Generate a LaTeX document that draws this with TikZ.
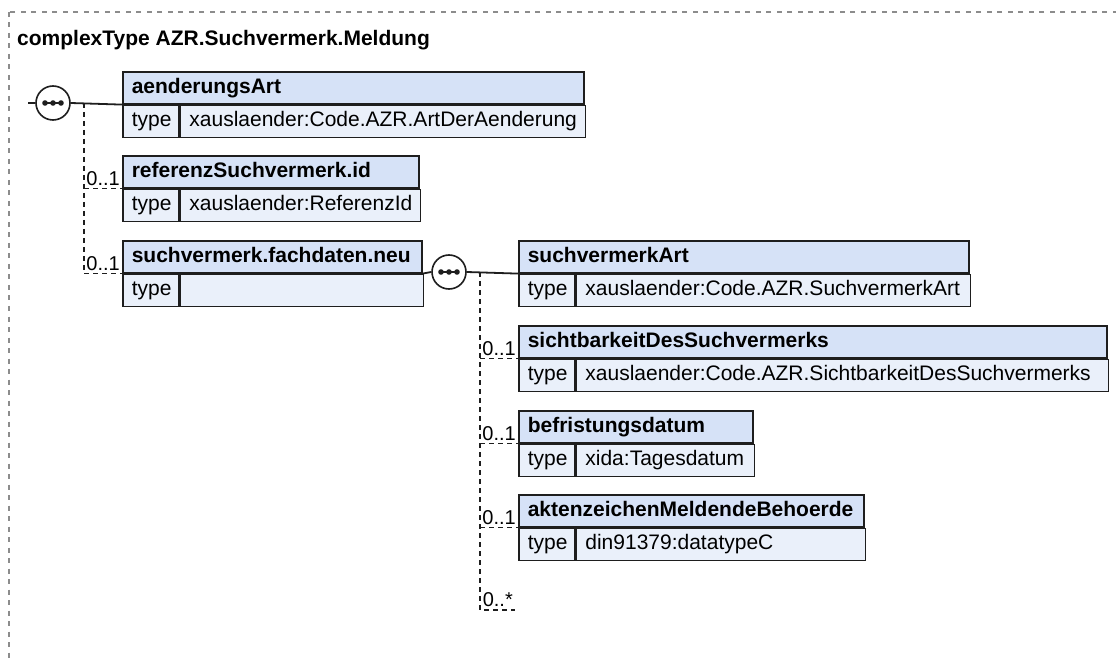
\documentclass[tikz,border=0pt]{standalone}
\usepackage{fontspec}
\setmainfont{Liberation Sans}
\usetikzlibrary{positioning}
\definecolor{xsdHead}{HTML}{D6E2F7}
\definecolor{xsdRow}{HTML}{EAF0FA}
\definecolor{xsdLine}{HTML}{1E1E1E}
\definecolor{xsdFrame}{HTML}{8C8C8C}
\hyphenpenalty=10000

\begin{document}
\begin{tikzpicture}[x=1pt, y=-1pt,
		elemhead/.style={
			draw=xsdLine, fill=xsdHead, line width=1.6pt, anchor=north west,
			minimum height=32pt, inner xsep=9pt, inner ysep=0pt, align=left,
			text height=15pt, text depth=4.5pt,
			font=\fontsize{21}{25}\selectfont\bfseries
		},
		typecell/.style={
			draw=xsdLine, fill=xsdRow, line width=1.6pt, anchor=north west,
			minimum height=32pt, inner xsep=9pt, inner ysep=0pt, align=left,
			text height=15pt, text depth=4.5pt, text width=38pt,
			font=\fontsize{21}{25}\selectfont
		},
		valcell/.style={typecell, text width=#1},
		seqnode/.style={
			circle, draw=xsdLine, fill=white, line width=1.6pt,
			minimum size=34pt, inner sep=0pt
		},
		seqdot/.style={fill=xsdLine},
		mult/.style={inner sep=0pt, font=\fontsize{20}{24}\selectfont},
		title/.style={inner sep=0pt, font=\fontsize{21}{25}\selectfont\bfseries},
		solidconn/.style={line width=1.8pt, xsdLine},
		optconn/.style={line width=1.5pt, xsdLine, dash pattern=on 5pt off 4pt},
		frame/.style={line width=1.2pt, xsdFrame, dash pattern=on 5pt off 5.5pt}
		]
		
		\useasboundingbox (0,0) rectangle (1116,660);
		\clip (0,0) rectangle (1116,660);
		\fill[white] (0,0) rectangle (1116,660);
		\draw[frame] (9,12) rectangle (1140,690);
		
		\node[title, anchor=base west] (title) at (17,46) {complexType AZR.Suchvermerk.Meldung};
		
		% left sequence
		\node[elemhead, text width=443pt] (aend) at (122,71) {aenderungsArt};
		\node[typecell] (aend-t) at (aend.south west) {type};
		\node[valcell=387pt] (aend-v) at (aend-t.north east) {xauslaender:Code.AZR.ArtDerAenderung};
		
		\node[elemhead, text width=278pt] (refid) at (122,155) {referenzSuchvermerk.id};
		\node[typecell] (refid-t) at (refid.south west) {type};
		\node[valcell=222pt] (refid-v) at (refid-t.north east) {xauslaender:ReferenzId};
		
		\node[elemhead, text width=281pt] (neu) at (122,240) {suchvermerk.fachdaten.neu};
		\node[typecell] (neu-t) at (neu.south west) {type};
		\node[valcell=225pt] (neu-v) at (neu-t.north east) {};
		
		% right sequence
		\node[elemhead, text width=432pt] (sart) at (518,240) {suchvermerkArt};
		\node[typecell] (sart-t) at (sart.south west) {type};
		\node[valcell=376pt] (sart-v) at (sart-t.north east) {xauslaender:Code.AZR.SuchvermerkArt};
		
		\node[elemhead, text width=570pt] (sicht) at (518,325) {sichtbarkeitDesSuchvermerks};
		\node[typecell] (sicht-t) at (sicht.south west) {type};
		\node[valcell=514pt] (sicht-v) at (sicht-t.north east) {xauslaender:Code.AZR.SichtbarkeitDesSuchvermerks};
		
		\node[elemhead, text width=216pt] (befr) at (518,410) {befristungsdatum};
		\node[typecell] (befr-t) at (befr.south west) {type};
		\node[valcell=160pt] (befr-v) at (befr-t.north east) {xida:Tagesdatum};
		
		\node[elemhead, text width=327pt] (akten) at (518,494) {aktenzeichenMeldendeBehoerde};
		\node[typecell] (akten-t) at (akten.south west) {type};
		\node[valcell=271pt] (akten-v) at (akten-t.north east) {din91379:datatypeC};
		
		% compositors
		\node[seqnode] (seq1) at (53,103) {};
		\node[seqnode] (seq2) at (449,272) {};
		\foreach \s in {seq1,seq2} {
			\draw[line width=1.4pt, xsdLine] ([xshift=-8pt]\s.center) -- ([xshift=8pt]\s.center);
			\foreach \dx in {-8,0,8}
				\fill[seqdot] ([xshift=\dx pt]\s.center) circle (2.8pt);
		}
		
		\coordinate (in1) at (28,103);
		\coordinate (fork1) at (84,103);
		\coordinate (fork2) at (480,272);
		\coordinate (anyend) at (515,610);
		
		\draw[solidconn] (in1) -- (seq1.west);
		\draw[solidconn] (seq1.east) -- (aend.south west);
		\draw[optconn] (fork1) |- (neu.south west);
		\draw[optconn] (fork1 |- refid.south west) -- (refid.south west);
		
		\draw[solidconn] (neu.south east) -- (seq2.west);
		\draw[solidconn] (seq2.east) -- (sart.south west);
		\draw[optconn] (fork2) |- (anyend);
		\draw[optconn] (fork2 |- sicht.south west) -- (sicht.south west);
		\draw[optconn] (fork2 |- befr.south west) -- (befr.south west);
		\draw[optconn] (fork2 |- akten.south west) -- (akten.south west);
		
		\node[mult, above left=3pt and 2pt of refid.south west] (m-refid) {0..1};
		\node[mult, above left=3pt and 2pt of neu.south west] (m-neu) {0..1};
		\node[mult, above left=3pt and 2pt of sicht.south west] (m-sicht) {0..1};
		\node[mult, above left=3pt and 2pt of befr.south west] (m-befr) {0..1};
		\node[mult, above left=3pt and 2pt of akten.south west] (m-akten) {0..1};
		\node[mult, above left=3pt and 2pt of anyend] (m-any) {0..*};
		
	\end{tikzpicture}
\end{document}
